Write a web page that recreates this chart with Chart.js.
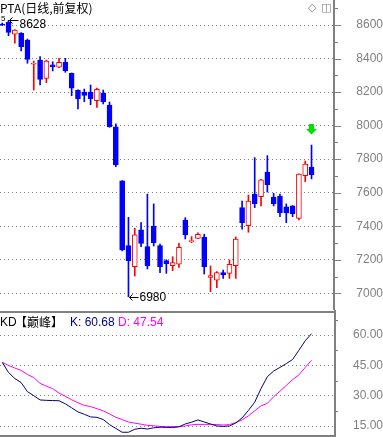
<!DOCTYPE html>
<html>
<head>
<meta charset="utf-8">
<script src="https://cdn.jsdelivr.net/npm/chart.js@4.4.0/dist/chart.umd.min.js"></script>
<style>
body { margin: 0; background: #fff; }
#wrap { position: relative; width: 383px; height: 437px; overflow: hidden; background: #fff; }
canvas { position: absolute; left: 0; }
.t { position: absolute; white-space: nowrap; font: 12px "Liberation Sans", Arial, sans-serif; line-height: 14px; color: #000; }
.cjk { font-family: "Noto Sans CJK SC", sans-serif; }
.icon { font-family: "DejaVu Sans", sans-serif; font-size: 11px; color: #808080; }
</style>
</head>
<body>
<div id="wrap">
  <canvas id="priceChart" width="383" height="310" style="top:0"></canvas>
  <canvas id="kdChart" width="383" height="127" style="top:310px"></canvas>
  <div class="t cjk" style="left:0;top:1px">PTA(日线,前复权)</div>
  <div class="t" style="left:1px;top:12px;font-size:8px">5</div>
  <div class="t icon" style="left:308px;top:1px">◇</div>
  <div class="t icon" style="left:321px;top:1px">◫</div>
  <div class="t" style="left:0;top:315px">KD</div>
  <div class="t cjk" style="left:15px;top:315px">【巅峰】</div>
  <div class="t" style="left:70px;top:315px;color:#000080">K: 60.68</div>
  <div class="t" style="left:118px;top:315px;color:#ff00ff">D: 47.54</div>
</div>
<script>
// 日K线数据
const opens  = [8606, 8616, 8545, 8550, 8510, 8366, 8391, 8282, 8362, 8348,
                8378, 8312, 8212, 8200, 8200, 8149, 8193, 8123, 7992, 7670,
                7284, 7159, 7378, 7278, 7401, 7284, 7195, 7165, 7173, 7437,
                7308, 7328, 7334, 7095, 7079, 7123, 7119, 7165, 7511, 7403,
                7592, 7576, 7723, 7574, 7580, 7515, 7521, 7447, 7702, 7753];
const highs  = [8612, 8628, 8572, 8555, 8516, 8385, 8411, 8391, 8381, 8401,
                8401, 8314, 8214, 8218, 8242, 8224, 8212, 8141, 8010, 7672,
                7453, 7388, 7421, 7592, 7533, 7294, 7200, 7218, 7298, 7451,
                7338, 7360, 7352, 7163, 7129, 7139, 7199, 7336, 7550, 7586,
                7809, 7680, 7821, 7596, 7592, 7533, 7523, 7713, 7789, 7884];
const lows   = [8596, 8536, 8491, 8445, 8372, 8212, 8242, 8256, 8326, 8346,
                8318, 8178, 8099, 8143, 8125, 8109, 8129, 7990, 7755, 7252,
                6980, 7103, 7278, 7145, 7282, 7123, 7119, 7135, 7155, 7324,
                7302, 7326, 7115, 7010, 7033, 7089, 7089, 7089, 7382, 7364,
                7511, 7521, 7604, 7521, 7457, 7421, 7457, 7437, 7666, 7682];
const closes = [8600, 8556, 8570, 8471, 8395, 8372, 8276, 8385, 8350, 8378,
                8327, 8223, 8159, 8180, 8161, 8216, 8141, 7994, 7765, 7258,
                7195, 7348, 7298, 7165, 7302, 7159, 7177, 7183, 7274, 7348,
                7314, 7352, 7159, 7105, 7123, 7109, 7173, 7324, 7421, 7550,
                7534, 7676, 7648, 7534, 7481, 7479, 7475, 7711, 7771, 7708];

// KD指标
const kValues = [46.5, 41.5, 38.5, 36.5, 32.0, 30.0, 27.9, 27.7, 27.6, 27.5,
                 26.0, 24.0, 22.0, 20.8, 19.5, 19.3, 18.2, 15.7, 13.8, 11.9,
                 11.9, 13.4, 13.9, 13.5, 14.1, 14.4, 14.3, 14.2, 14.6, 16.0,
                 16.9, 18.0, 17.0, 16.0, 15.0, 14.8, 15.0, 16.5, 19.0, 22.7,
                 26.8, 33.5, 39.4, 42.2, 44.0, 45.9, 47.9, 52.5, 57.2, 60.68];
const dValues = [46.5, 45.0, 43.7, 42.5, 40.5, 39.0, 36.1, 34.7, 33.5, 31.3,
                 29.7, 28.0, 26.5, 25.2, 24.6, 23.6, 22.5, 21.0, 19.3, 18.2,
                 17.0, 16.4, 15.9, 15.3, 15.1, 14.8, 14.7, 14.7, 14.7, 15.0,
                 15.6, 15.8, 15.8, 15.8, 15.7, 15.5, 15.7, 16.7, 18.0, 20.0,
                 22.5, 25.0, 26.2, 29.5, 32.2, 35.1, 38.0, 40.3, 44.0, 47.54];

const priceTicks = [7000, 7200, 7400, 7600, 7800, 8000, 8200, 8400, 8600];
const kdTicks = [15, 30, 45, 60];

const UP = '#ff0000';
const DOWN = '#0000ff';
const GRAY = '#808080';
const AXIS_W = 49;
const xRange = { min: -0.35, max: 52.56 };

const isUp = i => closes[i] >= opens[i];

// 纵轴固定宽度, 去掉标签带来的上下留白
function fitAxis(s) {
    s.width = AXIS_W;
    s.paddingTop = 0;
    s.paddingBottom = 0;
}

// 坐标轴上的小刻度 + 最高最低价标注 + 绿色箭头
const priceDecor = {
    id: 'priceDecor',
    afterDraw(chart) {
        const { ctx, chartArea } = chart;
        const xs = chart.scales.x, ys = chart.scales.y;
        ctx.save();
        ctx.strokeStyle = GRAY;
        ctx.lineWidth = 1;
        const ax = chartArea.right + 1;
        for (let v = Math.ceil(ys.min / 100) * 100; v <= ys.max; v += 100) {
            const py = Math.round(ys.getPixelForValue(v)) + 0.5;
            const len = v % 200 === 0 ? 6 : 3;
            ctx.beginPath();
            ctx.moveTo(ax, py);
            ctx.lineTo(ax + len, py);
            ctx.stroke();
        }

        // 最高/最低
        const hi = highs.indexOf(Math.max(...highs));
        const lo = lows.indexOf(Math.min(...lows));
        ctx.strokeStyle = '#000';
        ctx.fillStyle = '#000';
        ctx.font = '12px "Liberation Sans", Arial, sans-serif';
        ctx.textBaseline = 'middle';
        [[hi, highs[hi], 4], [lo, lows[lo], 0]].forEach(([i, v, dy]) => {
            const cx = xs.getPixelForValue(i);
            const cy = Math.round(ys.getPixelForValue(v)) + 0.5;
            ctx.beginPath();
            ctx.moveTo(cx + 1, cy);
            ctx.lineTo(cx + 10, cy);
            ctx.moveTo(cx + 4, cy - 3);
            ctx.lineTo(cx + 1, cy);
            ctx.lineTo(cx + 4, cy + 3);
            ctx.stroke();
            ctx.fillText(String(v), cx + 11, cy + dy);
        });

        // 最后一根K线上方的绿色箭头
        const last = closes.length - 1;
        const gx = Math.round(xs.getPixelForValue(last)) - 1;
        const tip = ys.getPixelForValue(highs[last]) - 11;
        ctx.fillStyle = '#00e000';
        ctx.fillRect(gx - 2, tip - 10, 5, 5);
        ctx.beginPath();
        ctx.moveTo(gx - 5, tip - 5);
        ctx.lineTo(gx + 6, tip - 5);
        ctx.lineTo(gx + 0.5, tip + 0.5);
        ctx.closePath();
        ctx.fill();
        ctx.restore();
    }
};

const kdDecor = {
    id: 'kdDecor',
    afterDraw(chart) {
        const { ctx, chartArea, height } = chart;
        const ys = chart.scales.y;
        ctx.save();
        ctx.strokeStyle = GRAY;
        ctx.lineWidth = 2;
        ctx.beginPath();
        ctx.moveTo(chartArea.left, chartArea.top - 1);
        ctx.lineTo(chartArea.right, chartArea.top - 1);
        ctx.moveTo(chartArea.left, chartArea.bottom);
        ctx.lineTo(chartArea.right, chartArea.bottom);
        ctx.moveTo(chartArea.right + 1, 0);
        ctx.lineTo(chartArea.right + 1, height);
        ctx.stroke();
        ctx.lineWidth = 1;
        for (let v = 22.5; v < ys.max; v += 15) {
            const py = Math.round(ys.getPixelForValue(v)) + 0.5;
            ctx.beginPath();
            ctx.moveTo(chartArea.right + 1, py);
            ctx.lineTo(chartArea.right + 4, py);
            ctx.stroke();
        }
        ctx.restore();
    }
};

const tickFont = { family: '"Liberation Sans", Arial, sans-serif', size: 12 };

new Chart(document.getElementById('priceChart'), {
    type: 'bar',
    data: {
        datasets: [{
            label: 'wick',
            data: closes.map((c, i) => ({ x: i, y: [lows[i], highs[i]] })),
            backgroundColor: closes.map((c, i) => isUp(i) ? UP : DOWN),
            borderWidth: 0,
            barThickness: 1,
            grouped: false,
            order: 2
        }, {
            label: 'body',
            data: closes.map((c, i) => ({ x: i, y: [opens[i], c] })),
            backgroundColor: closes.map((c, i) => isUp(i) ? '#ffffff' : DOWN),
            borderColor: closes.map((c, i) => isUp(i) ? UP : DOWN),
            borderWidth: 1,
            borderSkipped: false,
            barThickness: 5,
            minBarLength: 1,
            grouped: false,
            order: 1
        }]
    },
    options: {
        responsive: false,
        animation: false,
        events: [],
        layout: { padding: 0 },
        plugins: { legend: { display: false }, tooltip: { enabled: false } },
        scales: {
            x: {
                type: 'linear',
                min: xRange.min,
                max: xRange.max,
                offset: false,
                display: false
            },
            y: {
                position: 'right',
                min: 6900.4,
                max: 8749.1,
                afterFit: fitAxis,
                afterBuildTicks: s => { s.ticks = priceTicks.map(v => ({ value: v })); },
                grid: { color: GRAY, lineWidth: 1, drawTicks: false },
                border: { display: true, color: GRAY, width: 2, dash: [1, 3] },
                ticks: {
                    color: GRAY,
                    font: tickFont,
                    crossAlign: 'far',
                    padding: 20,
                    callback: v => String(v)
                }
            }
        }
    },
    plugins: [priceDecor]
});

new Chart(document.getElementById('kdChart'), {
    type: 'line',
    data: {
        datasets: [{
            label: 'K',
            data: kValues.map((v, i) => ({ x: i, y: v })),
            borderColor: '#000080',
            borderWidth: 1,
            pointRadius: 0,
            tension: 0
        }, {
            label: 'D',
            data: dValues.map((v, i) => ({ x: i, y: v })),
            borderColor: '#ff00ff',
            borderWidth: 1,
            pointRadius: 0,
            tension: 0
        }]
    },
    options: {
        responsive: false,
        animation: false,
        events: [],
        layout: { padding: { top: 3, bottom: 1 } },
        plugins: { legend: { display: false }, tooltip: { enabled: false } },
        scales: {
            x: {
                type: 'linear',
                min: xRange.min,
                max: xRange.max,
                display: false
            },
            y: {
                position: 'right',
                min: 10.05,
                max: 70.94,
                afterFit: fitAxis,
                afterBuildTicks: s => { s.ticks = kdTicks.map(v => ({ value: v })); },
                grid: { color: GRAY, lineWidth: 1, drawTicks: false },
                border: { display: false, dash: [1, 3] },
                ticks: {
                    color: GRAY,
                    font: tickFont,
                    crossAlign: 'far',
                    padding: 18,
                    callback: v => v.toFixed(2)
                }
            }
        }
    },
    plugins: [kdDecor]
});
</script>
</body>
</html>
